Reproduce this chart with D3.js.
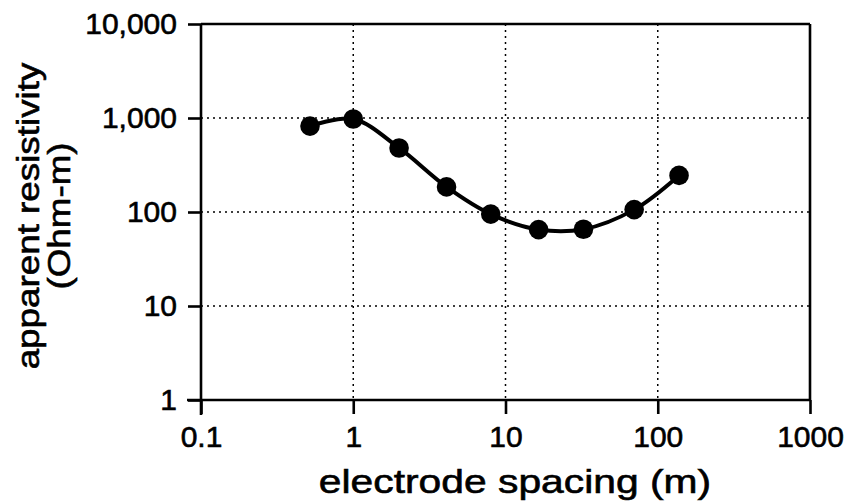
<!DOCTYPE html>
<html>
<head>
<meta charset="utf-8">
<script src="https://cdn.jsdelivr.net/npm/d3@7"></script>
<style>
  html, body { margin: 0; padding: 0; background: #fff; }
  svg { display: block; }
  text { font-family: "Liberation Sans", Arial, Helvetica, sans-serif; fill: #000; stroke: #000; stroke-width: 0.6px; }
</style>
</head>
<body>
<svg id="chart" width="849" height="503"></svg>
<script>
// Data
const spacing = [0.52, 1, 2, 4.1, 8, 16.5, 32.5, 70, 138];       // electrode spacing (m)
const resistivity = [820, 975, 480, 185, 95, 65, 65.5, 106, 245]; // apparent resistivity (Ohm-m)
const xTicks = [0.1, 1, 10, 100, 1000];
const xTickLabels = ["0.1", "1", "10", "100", "1000"];
const yTicks = [1, 10, 100, 1000, 10000];
const yTickLabels = ["1", "10", "100", "1,000", "10,000"];
const xTitle = "electrode spacing (m)";
const yTitle = ["apparent resistivity", "(Ohm-m)"];

(function () {
const svg = d3.select("#chart");
const mL = 201, mR = 810, mT = 24, mB = 400;

const x = d3.scaleLog().domain([0.1, 1000]).range([mL, mR]);
const y = d3.scaleLog().domain([1, 10000]).range([mB, mT]);

// Grid (dotted)
const grid = svg.append("g");
grid.selectAll("line.gx").data(xTicks.slice(1, -1)).join("line")
  .attr("x1", d => x(d)).attr("x2", d => x(d))
  .attr("y1", mT).attr("y2", mB)
  .attr("stroke", "#000").attr("stroke-width", 1.5).attr("stroke-dasharray", "2,4");
grid.selectAll("line.gy").data(yTicks.slice(1, -1)).join("line")
  .attr("x1", mL).attr("x2", mR)
  .attr("y1", d => y(d)).attr("y2", d => y(d))
  .attr("stroke", "#000").attr("stroke-width", 1.5).attr("stroke-dasharray", "2,4");

// Frame top / right
svg.append("line").attr("x1", mL).attr("x2", mR).attr("y1", mT).attr("y2", mT)
  .attr("stroke", "#000").attr("stroke-width", 2.6);
svg.append("line").attr("x1", mR).attr("x2", mR).attr("y1", mT).attr("y2", mB)
  .attr("stroke", "#000").attr("stroke-width", 2.6);

// Axes
const xAxis = d3.axisBottom(x).tickValues(xTicks)
  .tickFormat((d, i) => xTickLabels[i]).tickSize(14).tickPadding(12);
const gx = svg.append("g").attr("transform", `translate(0,${mB})`).call(xAxis);
const yAxis = d3.axisLeft(y).tickValues(yTicks)
  .tickFormat((d, i) => yTickLabels[i]).tickSize(13).tickPadding(11);
const gy = svg.append("g").attr("transform", `translate(${mL},0)`).call(yAxis);

[gx, gy].forEach(g => {
  g.select(".domain").attr("stroke", "#000").attr("stroke-width", 2.6);
  g.selectAll(".tick line").attr("stroke", "#000").attr("stroke-width", 2.6);
  g.selectAll(".tick text").attr("font-size", 30).attr("fill", "#000")
    .style("font-family", "'Liberation Sans', Arial, sans-serif");
});
gx.select(".domain").attr("d", `M${mL - 14},0H${mR}`);
gy.select(".domain").attr("d", `M0,${mT}V${mB + 15}`);

// Line + points
const pts = spacing.map((s, i) => [s, resistivity[i]]);
const line = d3.line().x(d => x(d[0])).y(d => y(d[1])).curve(d3.curveCatmullRom.alpha(0.5));
svg.append("path").datum(pts).attr("d", line)
  .attr("fill", "none").attr("stroke", "#000").attr("stroke-width", 4);
svg.selectAll("circle.pt").data(pts).join("circle")
  .attr("cx", d => x(d[0])).attr("cy", d => y(d[1])).attr("r", 9.8).attr("fill", "#000");

// Titles
svg.append("text").attr("x", 515).attr("y", 493).attr("text-anchor", "middle")
  .attr("font-size", 34).attr("transform", "translate(515,0) scale(1.2,1) translate(-515,0)")
  .text(xTitle);
const yt = svg.append("text").attr("transform", "translate(0,216) rotate(-90) scale(1.15,1)")
  .attr("text-anchor", "middle").attr("font-size", 32);
yt.append("tspan").attr("x", 0).attr("y", 39).text(yTitle[0]);
yt.append("tspan").attr("x", 0).attr("y", 70).text(yTitle[1]);
})();
</script>
</body>
</html>
